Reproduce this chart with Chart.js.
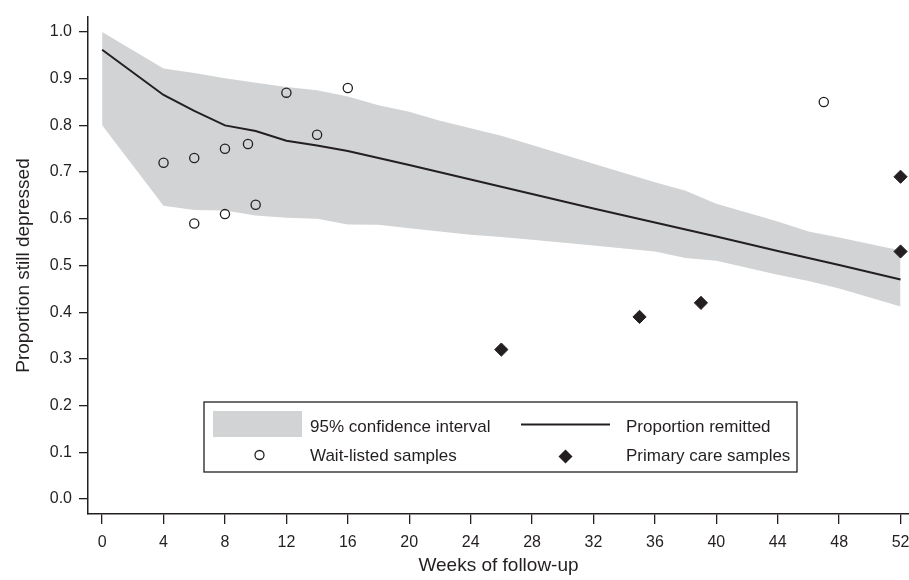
<!DOCTYPE html>
<html>
<head>
<meta charset="utf-8">
<title>Proportion still depressed</title>
<script src="https://cdn.jsdelivr.net/npm/chart.js@4.4.1/dist/chart.umd.min.js"></script>
<style>
    body { margin: 0; background: #fff; }
    #wrap { width: 909px; height: 580px; position: relative; }
</style>
</head>
<body>
<div id="wrap"><canvas id="chart"></canvas></div>
<script>
// wait-listed samples (open circles)
const waitWeeks = [4, 6, 6, 8, 8, 9.5, 10, 12, 14, 16, 47];
const waitProps = [0.72, 0.73, 0.59, 0.75, 0.61, 0.76, 0.63, 0.87, 0.78, 0.88, 0.85];

// primary care samples (diamonds)
const careWeeks = [26, 35, 39, 52, 52];
const careProps = [0.32, 0.39, 0.42, 0.69, 0.53];

// fitted proportion line
const fitWeeks = [0, 4, 6, 8, 10, 12, 14, 16, 20, 24, 28, 32, 36, 40, 44, 48, 52];
const fitProps = [0.962, 0.865, 0.831, 0.800, 0.788, 0.767, 0.757, 0.745, 0.715, 0.684, 0.653, 0.622, 0.592, 0.562, 0.531, 0.501, 0.470];

// 95% confidence band
const ciWeeks = [0, 4, 6, 8, 10, 12, 14, 16, 18, 20, 22, 24, 26, 28, 32, 36, 38, 40, 44, 46, 48, 52];
const ciUpper = [1.00, 0.922, 0.912, 0.901, 0.891, 0.882, 0.875, 0.862, 0.843, 0.829, 0.81, 0.794, 0.778, 0.758, 0.718, 0.678, 0.66, 0.632, 0.594, 0.573, 0.56, 0.532];
const ciLower = [0.80, 0.628, 0.619, 0.618, 0.607, 0.602, 0.600, 0.588, 0.587, 0.58, 0.573, 0.566, 0.561, 0.555, 0.543, 0.53, 0.516, 0.51, 0.48, 0.467, 0.451, 0.412];

const xTicks = [0, 4, 8, 12, 16, 20, 24, 28, 32, 36, 40, 44, 48, 52];
const yTicks = [0, 0.1, 0.2, 0.3, 0.4, 0.5, 0.6, 0.7, 0.8, 0.9, 1.0];

const ink = "#231f20";
const bandColor = "#d1d3d4";
const fontFamily = "'Liberation Sans', Arial, Helvetica, sans-serif";

function toPoints(xs, ys) {
    return xs.map((x, i) => ({ x: x, y: ys[i] }));
}

// legend box drawn inside the plot area
const boxLegend = {
    id: "boxLegend",
    afterDatasetsDraw(chart) {
        const ctx = chart.ctx;
        const a = chart.chartArea;
        const left = a.left + 116, top = a.top + 385, w = 593, h = 70;
        ctx.save();
        ctx.fillStyle = "#fff";
        ctx.fillRect(left, top, w, h);
        ctx.strokeStyle = ink;
        ctx.lineWidth = 1.3;
        ctx.strokeRect(left, top, w, h);

        // gray swatch
        ctx.fillStyle = bandColor;
        ctx.fillRect(left + 9, top + 9, 89, 26);

        // line sample
        ctx.strokeStyle = ink;
        ctx.lineWidth = 2;
        ctx.beginPath();
        ctx.moveTo(left + 317, top + 22.5);
        ctx.lineTo(left + 406, top + 22.5);
        ctx.stroke();

        // open circle
        ctx.lineWidth = 1.3;
        ctx.beginPath();
        ctx.arc(left + 55.5, top + 53, 4.5, 0, Math.PI * 2);
        ctx.stroke();

        // diamond
        const dx = left + 361.5, dy = top + 54.5, r = 7;
        ctx.fillStyle = ink;
        ctx.beginPath();
        ctx.moveTo(dx - r, dy);
        ctx.lineTo(dx, dy - r);
        ctx.lineTo(dx + r, dy);
        ctx.lineTo(dx, dy + r);
        ctx.closePath();
        ctx.fill();

        ctx.fillStyle = ink;
        ctx.font = "17px " + fontFamily;
        ctx.textBaseline = "alphabetic";
        ctx.textAlign = "left";
        ctx.fillText("95% confidence interval", left + 106, top + 29.5);
        ctx.fillText("Proportion remitted", left + 422, top + 29.5);
        ctx.fillText("Wait-listed samples", left + 106, top + 58.5);
        ctx.fillText("Primary care samples", left + 422, top + 58.5);
        ctx.restore();
    }
};

new Chart(document.getElementById("chart"), {
    type: "scatter",
    data: {
        datasets: [
            {
                label: "Wait-listed samples",
                data: toPoints(waitWeeks, waitProps),
                pointStyle: "circle",
                pointRadius: 4.6,
                pointBorderWidth: 1.3,
                pointBorderColor: ink,
                pointBackgroundColor: "rgba(0,0,0,0)",
                order: 1
            },
            {
                label: "Primary care samples",
                data: toPoints(careWeeks, careProps),
                pointStyle: "rectRot",
                pointRadius: 6.6,
                pointBorderWidth: 1,
                pointBorderColor: ink,
                pointBackgroundColor: ink,
                order: 1
            },
            {
                label: "Proportion remitted",
                data: toPoints(fitWeeks, fitProps),
                showLine: true,
                borderColor: ink,
                borderWidth: 2,
                pointRadius: 0,
                fill: false,
                order: 2
            },
            {
                label: "95% confidence interval",
                data: toPoints(ciWeeks, ciUpper),
                showLine: true,
                borderWidth: 0,
                borderColor: "rgba(0,0,0,0)",
                backgroundColor: bandColor,
                pointRadius: 0,
                fill: "+1",
                order: 3
            },
            {
                label: "lower",
                data: toPoints(ciWeeks, ciLower),
                showLine: true,
                borderWidth: 0,
                borderColor: "rgba(0,0,0,0)",
                pointRadius: 0,
                fill: false,
                order: 3
            }
        ]
    },
    options: {
        responsive: true,
        maintainAspectRatio: false,
        animation: false,
        devicePixelRatio: 1,
        layout: { autoPadding: false, padding: { top: 17, right: 0, left: 0, bottom: 0 } },
        plugins: {
            legend: { display: false },
            tooltip: { enabled: false }
        },
        scales: {
            x: {
                type: "linear",
                min: -0.92,
                max: 52.55,
                afterBuildTicks: scale => { scale.ticks = xTicks.map(v => ({ value: v })); },
                afterFit: scale => {
                    scale.height = 66;
                    scale.paddingLeft = 0;
                    scale.paddingRight = 0;
                },
                grid: { drawOnChartArea: false, tickLength: 10, color: ink, lineWidth: 1.3 },
                border: { color: ink, width: 1.5 },
                ticks: {
                    color: ink,
                    padding: 9,
                    maxRotation: 0,
                    autoSkip: false,
                    font: { family: fontFamily, size: 16 }
                },
                title: {
                    display: true,
                    text: "Weeks of follow-up",
                    color: ink,
                    font: { family: fontFamily, size: 19 },
                    padding: { top: 0, bottom: 3 }
                }
            },
            y: {
                min: -0.032,
                max: 1.032,
                afterBuildTicks: scale => { scale.ticks = yTicks.map(v => ({ value: v })); },
                afterFit: scale => {
                    scale.width = 88;
                    scale.paddingTop = 0;
                    scale.paddingBottom = 0;
                },
                grid: { drawOnChartArea: false, tickLength: 9, color: ink, lineWidth: 1.3 },
                border: { color: ink, width: 1.5 },
                ticks: {
                    color: ink,
                    padding: 7,
                    autoSkip: false,
                    font: { family: fontFamily, size: 16 },
                    callback: v => v.toFixed(1)
                },
                title: {
                    display: true,
                    text: "Proportion still depressed",
                    color: ink,
                    font: { family: fontFamily, size: 19 },
                    padding: { top: 12, bottom: 0 }
                }
            }
        }
    },
    plugins: [boxLegend]
});
</script>
</body>
</html>
